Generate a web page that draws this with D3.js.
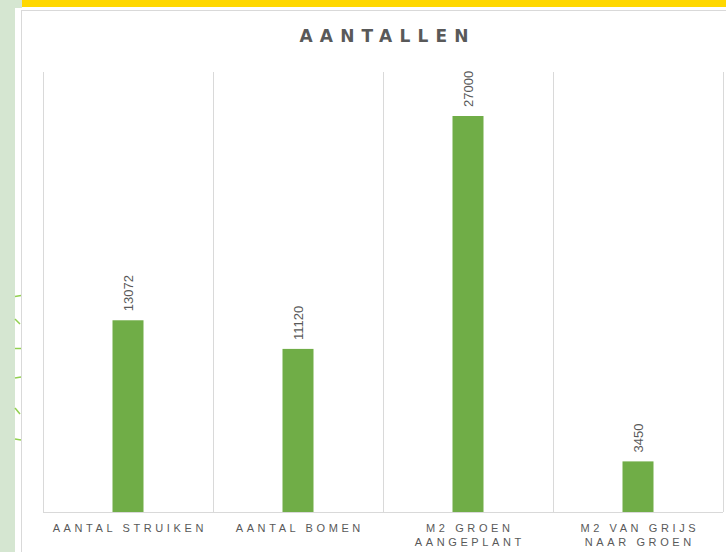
<!DOCTYPE html>
<html>
<head>
<meta charset="utf-8">
<script src="https://cdn.jsdelivr.net/npm/d3@7"></script>
<style>
  html, body { margin: 0; padding: 0; background: #ffffff; }
  svg { display: block; }
</style>
</head>
<body>
<svg id="chart" width="726" height="552"></svg>
<script>
const title = "AANTALLEN";
const categories = ["Aantal struiken", "Aantal bomen", "M2 groen aangeplant", "M2 van grijs naar groen"];
const categoryLines = [["AANTAL STRUIKEN"], ["AANTAL BOMEN"], ["M2 GROEN", "AANGEPLANT"], ["M2 VAN GRIJS", "NAAR GROEN"]];
const values = [13072, 11120, 27000, 3450];
const yDomain = [0, 30000];

const svg = d3.select("#chart");
const W = 726, H = 552;

// slide decoration
svg.append("rect").attr("x", 0).attr("y", 0).attr("width", W).attr("height", H).attr("fill", "#ffffff");
svg.append("rect").attr("x", 0).attr("y", 0).attr("width", 15).attr("height", H).attr("fill", "#d5e6d1");
svg.append("rect").attr("x", 15).attr("y", 0).attr("width", 7).attr("height", 8).attr("fill", "#d5e6d1");
svg.append("rect").attr("x", 22).attr("y", 0).attr("width", W - 22).attr("height", 7).attr("fill", "#ffd800");

// decorative arc ticks on the left edge
const deco = [[15, 296.5, 21, 295.5], [15, 319, 20, 324], [15, 348.5, 21, 348.5], [15, 378, 21, 377], [15, 408, 20, 414], [15, 439, 21, 440]];
svg.selectAll("line.deco").data(deco).join("line")
  .attr("x1", d => d[0]).attr("y1", d => d[1]).attr("x2", d => d[2]).attr("y2", d => d[3])
  .attr("stroke", "#92d050").attr("stroke-width", 1.5);

// chart box
svg.append("rect").attr("x", 21.5).attr("y", 10.5).attr("width", W).attr("height", H)
  .attr("fill", "#ffffff").attr("stroke", "#d9d9d9").attr("stroke-width", 1);

// title
svg.append("text")
  .attr("x", 384 + 3.6).attr("y", 42)
  .attr("text-anchor", "middle")
  .attr("font-family", "'DejaVu Sans', 'Open Sans', sans-serif")
  .attr("font-weight", "bold")
  .attr("font-size", 17)
  .attr("letter-spacing", 7.2)
  .attr("fill", "#595959")
  .text(title);

const plot = { left: 43, right: 723, top: 72, bottom: 512 };

const x = d3.scaleBand().domain(categories).range([plot.left, plot.right]).paddingInner(0).paddingOuter(0);
const y = d3.scaleLinear().domain(yDomain).range([plot.bottom, plot.top]);

// vertical category gridlines
const edges = categories.map(c => x(c)).concat([x(categories[categories.length - 1]) + x.bandwidth()]);
svg.selectAll("line.grid").data(edges).join("line")
  .attr("x1", d => Math.round(d) + 0.5).attr("x2", d => Math.round(d) + 0.5)
  .attr("y1", plot.top).attr("y2", plot.bottom)
  .attr("stroke", "#d9d9d9").attr("stroke-width", 1);

// bars
const barW = 31;
svg.selectAll("rect.bar").data(values).join("rect")
  .attr("class", "bar")
  .attr("x", (d, i) => x(categories[i]) + x.bandwidth() / 2 - barW / 2)
  .attr("y", d => y(d))
  .attr("width", barW)
  .attr("height", d => y(0) - y(d))
  .attr("fill", "#70ad47");

// data labels (rotated)
svg.selectAll("text.lbl").data(values).join("text")
  .attr("class", "lbl")
  .attr("transform", (d, i) => `translate(${x(categories[i]) + x.bandwidth() / 2 + 4.5},${y(d) - 9}) rotate(-90)`)
  .attr("text-anchor", "start")
  .attr("font-family", "'Liberation Sans Narrow', 'Arial Narrow', 'Liberation Sans', sans-serif")
  .attr("font-size", 13)
  .attr("fill", "#595959")
  .text(d => d);

// x axis
const xAxis = d3.axisBottom(x).tickSize(0).tickFormat("");
const gx = svg.append("g").attr("transform", `translate(0,${plot.bottom})`).call(xAxis);
gx.select(".domain").attr("stroke", "#d9d9d9").attr("d", `M${plot.left},0.5H${plot.right}`);
gx.selectAll(".tick text").remove();
gx.selectAll(".tick").each(function (c, i) {
  const t = d3.select(this).append("text")
    .attr("text-anchor", "middle")
    .attr("font-family", "'Liberation Sans', Arial, sans-serif")
    .attr("font-size", 11)
    .attr("letter-spacing", 3.6)
    .attr("fill", "#595959");
  categoryLines[i].forEach((line, k) => {
    t.append("tspan").attr("x", 1.8).attr("y", 20 + k * 13.5).text(line);
  });
});
</script>
</body>
</html>
